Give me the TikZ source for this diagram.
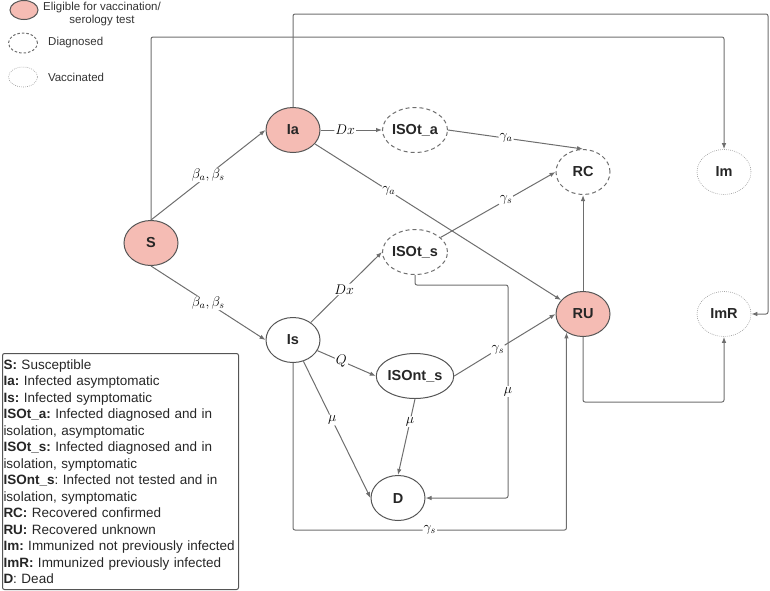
\RequirePackage{fix-cm}
\documentclass[tikz,border=0pt]{standalone}
\usepackage{fontspec}
\setmainfont{Liberation Sans}
\frenchspacing
\usetikzlibrary{arrows.meta,shapes.geometric,positioning,calc}
\definecolor{elig}{RGB}{245,188,180}
\definecolor{edge}{RGB}{110,110,110}
\definecolor{rim}{RGB}{85,85,85}

\begin{document}
\begin{tikzpicture}[x=1pt,y=-1pt,
  comp/.style={ellipse, draw=rim, line width=1pt, minimum width=54pt, minimum height=45pt, inner sep=0pt, text=black!85, font=\fontsize{14.5}{16}\selectfont\bfseries},
  eligible/.style={comp, fill=elig},
  diag/.style={comp, draw=rim!85, dash pattern=on 4pt off 3pt},
  vacc/.style={comp, draw=gray!80, line width=0.6pt, dash pattern=on 0.8pt off 1.2pt},
  flow/.style={draw=edge, line width=1pt, -{Latex[length=6pt,width=4.5pt]}, rounded corners=2pt},
  lbl/.style={fill=white, inner sep=1pt, font=\fontsize{14}{16}\selectfont},
  key/.style={inner sep=1pt, text=black!80, font=\fontsize{11.5}{13.5}\selectfont}]
\useasboundingbox (0,0) rectangle (770,590);

% compartments
\node[eligible] (S) at (151,243) {S};
\node[eligible] (Ia) at (293,130) {Ia};
\node[comp] (Is) at (293,340) {Is};
\node[diag] (ISOta) at (415,130) {ISOt\_a};
\node[diag] (ISOts) at (415,252) {ISOt\_s};
\node[comp] (ISOnts) at (415,376) {ISOnt\_s};
\node[diag] (RC) at (583,172) {RC};
\node[eligible] (RU) at (583,314) {RU};
\node[vacc] (Im) at (724,172) {Im};
\node[vacc] (ImR) at (724,314) {ImR};
\node[comp] (D) at (398,498) {D};

% corner levels of the long connectors
\coordinate (lineA) at (0,37);
\coordinate (lineB) at (768,14);
\coordinate (lineC) at (0,402);
\coordinate (lineD) at (0,530);
\coordinate (muR) at (508,285);

\foreach \a/\b/\l/\p in {S.north/Ia.west/{$\beta_a,\beta_s$}/0.5, S.south/Is.west/{$\beta_a,\beta_s$}/0.5,
    Ia.east/ISOta.west/$Dx$/0.4, Ia/RU/$\gamma_a$/0.3, ISOta.east/RC.north/$\gamma_a$/0.43,
    ISOts/RC.west/$\gamma_s$/0.57, Is/ISOts.west/$Dx$/0.47, Is/ISOnts.west/$Q$/0.41,
    ISOnts.east/RU.west/$\gamma_s$/0.43, Is/D.west/$\mu$/0.43, ISOnts.south/D.north/$\mu$/0.3} {
  \draw[flow] (\a) -- node[lbl,pos=\p] {\l} (\b);
}
\draw[flow] (RU) -- (RC);
\draw[flow] (S.north) -- (S.north |- lineA) -| (Im.north);
\draw[flow] (Ia.north) |- (lineB) |- (ImR.east);
\draw[flow] (ISOts.south) |- (muR) |- node[lbl,pos=0.25] {$\mu$} (D.east);
\draw[flow] (Is.south) -- (Is.south |- lineD) -| node[lbl,pos=0.25] {$\gamma_s$} (RU.228);
\draw[flow] (RU.south) -- (RU.south |- lineC) -| (ImR.south);

% key
\node[eligible, minimum width=28pt, minimum height=19pt] (keyE) at (24,10) {};
\node[diag, minimum width=29pt, minimum height=20pt, dash pattern=on 2.5pt off 2pt] (keyD) at (23,43) {};
\node[vacc, minimum width=29pt, minimum height=20pt] (keyV) at (23,77) {};
\node[key, align=center] (keyEtxt) at (102,14) {Eligible for vaccination/\\serology test};
\node[key, right=9pt of keyD] (keyDtxt) {Diagnosed};
\node[key, right=9pt of keyV] (keyVtxt) {Vaccinated};

\node[draw=rim, line width=1pt, rounded corners=2pt, anchor=north west, text width=234pt, minimum height=236pt,
  inner sep=1pt, align=left, text=black!85, font=\fontsize{13.5}{16.5}\selectfont] (legend) at (2,353) {%
  \textbf{S:} Susceptible\\
  \textbf{Ia:} Infected asymptomatic\\
  \textbf{Is:} Infected symptomatic\\
  \textbf{ISOt\_a:} Infected diagnosed and in\\
  isolation, asymptomatic\\
  \textbf{ISOt\_s:} Infected diagnosed and in\\
  isolation, symptomatic\\
  \textbf{ISOnt\_s}: Infected not tested and in\\
  isolation, symptomatic\\
  \textbf{RC:} Recovered confirmed\\
  \textbf{RU:} Recovered unknown\\
  \textbf{Im:} Immunized not previously infected\\
  \textbf{ImR:} Immunized previously infected\\
  \textbf{D}: Dead};
\end{tikzpicture}
\end{document}
